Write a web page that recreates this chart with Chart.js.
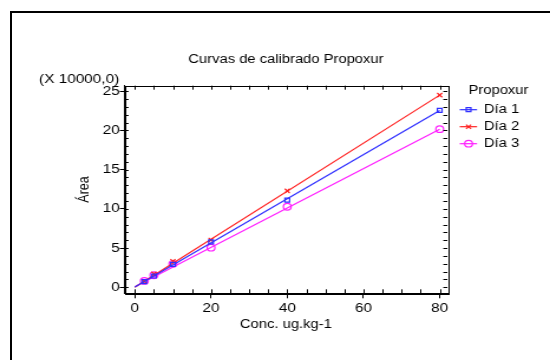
<!DOCTYPE html>
<html><head><meta charset="utf-8">
<script src="https://cdn.jsdelivr.net/npm/chart.js@4/dist/chart.umd.min.js"></script>
<style>
html,body{margin:0;padding:0;background:#fff;overflow:hidden;}
#wrap{position:relative;width:550px;height:360px;overflow:hidden;}
#frame{position:absolute;left:10px;top:11px;width:600px;height:400px;border-left:2px solid #000;border-top:2px solid #000;}
#c{position:absolute;left:0;top:0;}
</style></head><body>
<div id="wrap"><div id="frame"></div><canvas id="c" width="466" height="360" style="width:550px;height:360px"></canvas></div>
<script>
// ---- data ----
const titleText = 'Curvas de calibrado Propoxur';
const xTitle = 'Conc. ug.kg-1';
const yTitle = 'Área';
const yMultiplier = '(X 10000,0)';
const legendTitle = 'Propoxur';
const seriesNames = ['Día 1', 'Día 2', 'Día 3'];
const conc = [2.5, 5, 10, 20, 40, 80];
const dia1 = [0.72, 1.44, 2.93, 5.8, 11.12, 22.55];
const dia2 = [0.76, 1.72, 3.32, 6.03, 12.3, 24.5];
const dia3 = [0.82, 1.54, 3.0, 5.05, 10.27, 20.16];
const fitX = [0, 80];
const fit1 = [0.05, 22.55];
const fit2 = [0.0, 24.5];
const fit3 = [0.08, 20.15];
const xTickValues = [0, 20, 40, 60, 80];
const yTickValues = [0, 5, 10, 15, 20, 25];
const xMinorStep = 5;
const yMinorStep = 1;

// ---- styling ----
const FONT = '"Liberation Sans", Arial, sans-serif';
const colors = ['#2f2fff', '#ff2020', '#ff20ff'];
const markers = [
  {style: 'rect', radius: 2.8},
  {style: 'crossRot', radius: 3},
  {style: 'circle', radius: 3.3}
];
const pts = (xs, ys) => xs.map((x, i) => ({x: x, y: ys[i]}));
const seriesVals = [dia1, dia2, dia3];
const fits = [fit1, fit2, fit3];

const datasets = [];
seriesVals.forEach((vals, i) => {
  datasets.push({
    type: 'line', label: seriesNames[i] + ' ajuste', data: pts(fitX, fits[i]),
    borderColor: colors[i], borderWidth: 1.2, pointRadius: 0, fill: false, tension: 0
  });
  datasets.push({
    type: 'scatter', label: seriesNames[i], data: pts(conc, vals),
    borderColor: colors[i], backgroundColor: 'rgba(0,0,0,0)', borderWidth: 1.2,
    pointStyle: markers[i].style, pointRadius: markers[i].radius, showLine: false
  });
});

function drawMarker(ctx, style, r, x, y, color) {
  ctx.save();
  ctx.strokeStyle = color; ctx.lineWidth = 1.2;
  ctx.beginPath();
  if (style === 'rect') {
    const s = r * Math.SQRT1_2;
    ctx.rect(x - s, y - s, 2 * s, 2 * s);
  } else if (style === 'crossRot') {
    const s = r * Math.SQRT1_2;
    ctx.moveTo(x - s, y - s); ctx.lineTo(x + s, y + s);
    ctx.moveTo(x + s, y - s); ctx.lineTo(x - s, y + s);
  } else {
    ctx.arc(x, y, r, 0, Math.PI * 2);
  }
  ctx.stroke();
  ctx.restore();
}

const decor = {
  id: 'decor',
  afterDraw(chart) {
    const ctx = chart.ctx;
    const a = chart.chartArea;
    const xs = chart.scales.x, ys = chart.scales.y;
    ctx.save();
    // frame
    ctx.strokeStyle = '#000'; ctx.lineWidth = 1;
    ctx.strokeRect(Math.round(a.left) + 0.5, Math.round(a.top) + 0.5,
                   Math.round(a.right - a.left), Math.round(a.bottom - a.top));
    // inward minor ticks
    ctx.beginPath();
    for (let v = 0; v <= 80 + 1e-9; v += xMinorStep) {
      const px = Math.round(xs.getPixelForValue(v)) + 0.5;
      ctx.moveTo(px, a.bottom); ctx.lineTo(px, a.bottom - 4);
      ctx.moveTo(px, a.top); ctx.lineTo(px, a.top + 4);
    }
    for (let v = 0; v <= 25 + 1e-9; v += yMinorStep) {
      const py = Math.round(ys.getPixelForValue(v)) + 0.5;
      ctx.moveTo(a.left, py); ctx.lineTo(a.left + 3.4, py);
      ctx.moveTo(a.right, py); ctx.lineTo(a.right - 3.4, py);
    }
    ctx.stroke();
    // multiplier note
    ctx.fillStyle = '#000';
    ctx.font = '13px ' + FONT;
    ctx.textAlign = 'right'; ctx.textBaseline = 'middle';
    ctx.fillText(yMultiplier, a.left - 4.5, a.top - 6.5);
    // legend
    const lx = a.right + 10.5;
    ctx.font = '12.5px ' + FONT;
    ctx.textAlign = 'left';
    ctx.fillText(legendTitle, lx + 7.5, a.top + 5);
    seriesNames.forEach((name, i) => {
      const y = a.top + 23.5 + i * 17;
      ctx.strokeStyle = colors[i]; ctx.lineWidth = 1.2;
      ctx.beginPath(); ctx.moveTo(lx, y + 0.5); ctx.lineTo(lx + 14.7, y + 0.5); ctx.stroke();
      drawMarker(ctx, markers[i].style, markers[i].radius, lx + 7.5, y + 0.5, colors[i]);
      ctx.fillStyle = '#000';
      ctx.fillText(name, lx + 20.5, y);
    });
    ctx.restore();
  }
};

new Chart(document.getElementById('c'), {
  type: 'scatter',
  data: {datasets: datasets},
  plugins: [decor],
  options: {
    responsive: false, animation: false, devicePixelRatio: 1,
    layout: {padding: {left: 59, top: 51.7, right: 87, bottom: 20.7}},
    plugins: {
      legend: {display: false}, tooltip: {enabled: false},
      title: {display: true, text: titleText, fullSize: false, color: '#000',
              font: {family: FONT, size: 12.5, weight: 'normal'}, padding: {top: 0, bottom: 19}}
    },
    scales: {
      x: {
        type: 'linear', min: -2.7, max: 82,
        afterBuildTicks: s => { s.ticks = xTickValues.map(v => ({value: v})); },
        afterFit: s => { s.height = 46; },
        ticks: {color: '#000', font: {family: FONT, size: 13}, padding: 2, maxRotation: 0,
                callback: v => String(v)},
        grid: {display: true, drawOnChartArea: false, drawTicks: true, tickLength: 5, color: '#000'},
        border: {display: true, color: '#000', width: 1},
        title: {display: true, text: xTitle, color: '#000', font: {family: FONT, size: 12.5},
                padding: {top: 2, bottom: 6.8}}
      },
      y: {
        type: 'linear', min: -0.76, max: 25.7,
        afterBuildTicks: s => { s.ticks = yTickValues.map(v => ({value: v})); },
        afterFit: s => { s.width = 46.5; },
        ticks: {color: '#000', font: {family: FONT, size: 13}, padding: 0,
                callback: v => String(v)},
        grid: {display: true, drawOnChartArea: false, drawTicks: true, tickLength: 4, color: '#000'},
        border: {display: true, color: '#000', width: 1},
        title: {display: true, text: yTitle, color: '#000', font: {family: FONT, size: 12.5},
                padding: {top: 4.7, bottom: 0}}
      }
    }
  }
});
</script>
</body></html>
